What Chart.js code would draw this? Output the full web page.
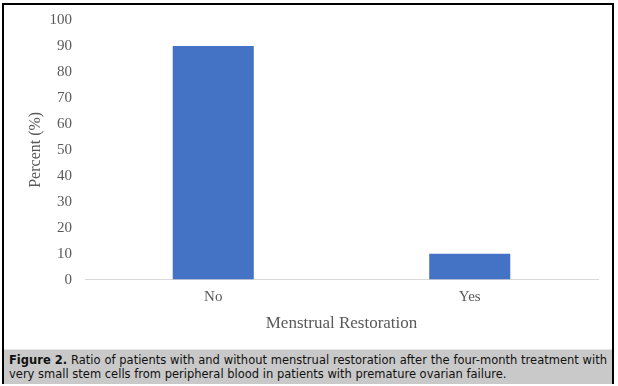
<!DOCTYPE html>
<html lang="en">
<head>
  <meta charset="UTF-8" />
  <title>Menstrual Restoration</title>
  <script src="https://cdn.jsdelivr.net/npm/chart.js"></script>
  <style>
    html, body { margin: 0; padding: 0; background: #fff; }
    #frame {
      position: absolute; left: 2px; top: 3px; width: 612px; height: 381px;
      border: 2px solid #000; box-sizing: border-box; background: #fff;
    }
    #chartBox { position: absolute; left: 0; top: 0; width: 608px; height: 343px; }
    #caption {
      position: absolute; left: 0; top: 344px; width: 608px; height: 35px;
      background: #c9c9c9; border-top: 1px solid #e6e6e6; box-sizing: border-box;
      font-family: "DejaVu Sans", Verdana, sans-serif; font-size: 11.5px; line-height: 14px;
      color: #111; padding: 3px 5px 0 5px; text-align: justify;
    }
  </style>
</head>
<body>
  <div id="frame">
    <div id="chartBox"><canvas id="barChart"></canvas></div>
    <div id="caption"><b>Figure 2.</b> Ratio of patients with and without menstrual restoration after the four-month treatment with very small stem cells from peripheral blood in patients with premature ovarian failure.</div>
  </div>

  <script>
    // chart values
    const categories = ['No', 'Yes'];
    const percents = [90, 10];

    const serif = 'Liberation Serif';

    new Chart(document.getElementById('barChart'), {
      type: 'bar',
      data: {
        labels: categories,
        datasets: [{
          label: 'Percent',
          data: percents,
          backgroundColor: '#4472C4',
          barPercentage: 0.316,
          categoryPercentage: 1
        }]
      },
      options: {
        responsive: true,
        maintainAspectRatio: false,
        animation: false,
        layout: { padding: { left: 20, right: 14, top: 15, bottom: 12 } },
        plugins: { legend: { display: false }, tooltip: { enabled: false } },
        scales: {
          y: {
            min: 0, max: 100,
            afterFit: (scale) => { scale.width = 61; scale.paddingTop = 0; scale.paddingBottom = 0; },
            ticks: { stepSize: 10, color: '#595959', padding: 13, font: { family: serif, size: 15 } },
            grid: { display: false, drawTicks: false },
            border: { display: false },
            title: { display: true, text: 'Percent (%)', color: '#595959', padding: 2, font: { family: serif, size: 16 } }
          },
          x: {
            ticks: { color: '#595959', padding: 8, font: { family: serif, size: 15 } },
            grid: { display: false, drawTicks: false },
            border: { display: true, color: '#d9d9d9', width: 1 },
            title: { display: true, text: 'Menstrual Restoration', color: '#595959', padding: { top: 0, bottom: 2 }, font: { family: serif, size: 17 } }
          }
        }
      }
    });
  </script>
</body>
</html>
